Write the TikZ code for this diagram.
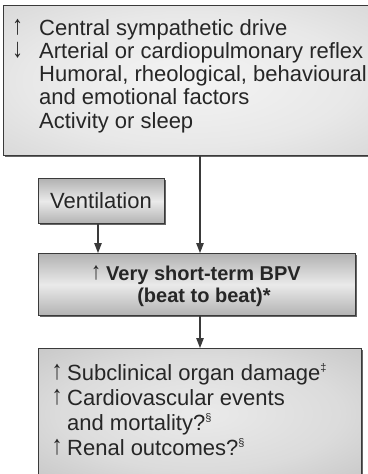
\documentclass[tikz,border=0pt]{standalone}
\usepackage{fontspec}
\setmainfont{Liberation Sans}
\usetikzlibrary{arrows.meta,shadows}

\definecolor{ink}{HTML}{262626}
\definecolor{edge}{HTML}{3A3A3A}
\definecolor{barEdge}{HTML}{B2B2B2}
\definecolor{barMid}{HTML}{EAEAEA}

% soft radial glows for the two large panels
\pgfdeclareradialshading{glowTop}{\pgfpoint{0bp}{0bp}}{%
  rgb(0bp)=(0.955,0.955,0.955);
  rgb(22bp)=(0.91,0.91,0.91);
  rgb(50bp)=(0.79,0.79,0.79);
  rgb(71bp)=(0.74,0.74,0.74)}
\pgfdeclareradialshading{glowBottom}{\pgfpoint{0bp}{0bp}}{%
  rgb(0bp)=(0.92,0.92,0.92);
  rgb(22bp)=(0.86,0.86,0.86);
  rgb(50bp)=(0.71,0.71,0.71);
  rgb(71bp)=(0.66,0.66,0.66)}

% arrow glyphs standing on the baseline, as tall as the capitals
\newcommand\upmark{\scalebox{1}[1.23]{\raisebox{0.02em}{↑}}}
\newcommand\downmark{\scalebox{1}[1.23]{\raisebox{0.02em}{↓}}}
% an arrow glyph hung to the left of a line of text
\newcommand\leadmark[2]{\llap{#1\hspace{#2}}}
% small raised note marks
\newcommand\notemark[1]{\raisebox{0.75ex}{\fontsize{11}{11}\selectfont #1}}

\begin{document}
\begin{tikzpicture}[x=1pt,y=-1pt,
  box/.style={draw=edge, line width=1.2pt, rectangle, inner sep=0pt,
    anchor=north west,
    drop shadow={shadow xshift=1.2pt, shadow yshift=-1.2pt, fill=black!60, opacity=1}},
  panelTop/.style={box, shading=glowTop},
  panelBottom/.style={box, shading=glowBottom},
  bar/.style={box, top color=barEdge, bottom color=barEdge, middle color=barMid},
  txt/.style={anchor=base west, inner sep=0pt, text=ink,
    font=\fontsize{22}{23}\selectfont},
  ctxt/.style={txt, anchor=base},
  btxt/.style={ctxt, font=\fontsize{20}{22}\selectfont\bfseries},
  conn/.style={draw=edge, line width=1.2pt,
    -{Triangle[length=10pt,width=7.5pt]}}
]
\useasboundingbox (0,0) rectangle (367,474);

% boxes
\node[panelTop, minimum width=372pt, minimum height=150pt] (causes) at (3,5) {};
\node[bar, minimum width=126pt, minimum height=45pt] (vent) at (38,178) {};
\node[bar, minimum width=317pt, minimum height=62pt] (bpv) at (38,253) {};
\node[panelBottom, minimum width=323pt, minimum height=130pt] (outcomes) at (38,348) {};

% text of the top panel
\node[txt] (c1) at (39,35)   {\leadmark{\upmark}{16pt}Central sympathetic drive};
\node[txt] (c2) at (39,58.3) {\leadmark{\downmark}{16pt}Arterial or cardiopulmonary reflex};
\node[txt] (c3) at (39,81.6) {Humoral, rheological, behavioural};
\node[txt] (c4) at (39,104.9){and emotional factors};
\node[txt] (c5) at (39,128.2){Activity or sleep};

% ventilation
\node[ctxt] (v1) at (101,208) {Ventilation};

% beat-to-beat variability
\node[btxt] (b1) at (196,280) {\upmark\hspace{5pt}Very short-term BPV};
\node[btxt] (b2) at (204,302) {(beat to beat)*};

% outcomes
\node[txt] (o1) at (67,380) {\leadmark{\upmark}{4.5pt}Subclinical organ damage\notemark{‡}};
\node[txt] (o2) at (67,405) {\leadmark{\upmark}{4.5pt}Cardiovascular events};
\node[txt] (o3) at (67,430) {and mortality?\notemark{§}};
\node[txt] (o4) at (67,455) {\leadmark{\upmark}{4.5pt}Renal outcomes?\notemark{§}};

% connectors
\draw[conn] (causes.south -| 200,0) -- (bpv.north -| 200,0);
\draw[conn] (vent.south -| 98,0) -- (bpv.north -| 98,0);
\draw[conn] (bpv.south -| 200,0) -- (outcomes.north -| 200,0);
\end{tikzpicture}
\end{document}
